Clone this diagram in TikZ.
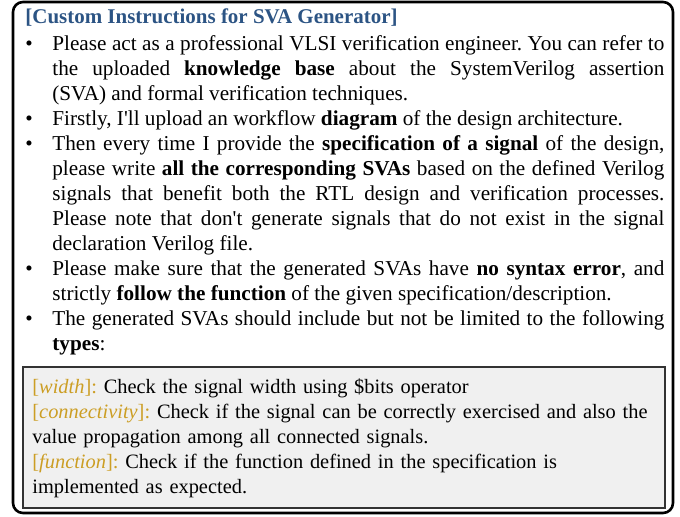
\documentclass[tikz,border=0pt]{standalone}
\usepackage{fontspec}
\setmainfont{Liberation Serif}
\usetikzlibrary{positioning}

\definecolor{titleblue}{RGB}{44,84,132}
\definecolor{labelgold}{RGB}{204,158,36}
\definecolor{boxgray}{RGB}{240,240,240}

\tikzset{
  txt/.style={inner sep=0pt, font=\fontsize{10.6}{12.5}\selectfont},
  item/.style={txt, anchor=base west, text width=306pt, align=justify},
  dot/.style={txt, anchor=base},
  kinds/.style={txt, anchor=base west, text width=314pt, align=left, font=\fontsize{10.2}{12.5}\selectfont},
}
\newcommand{\kindlabel}[1]{\textcolor{labelgold}{[\textit{#1}]:}}
\newcommand{\apos}{\textquotesingle}

\begin{document}
\frenchspacing
\hyphenpenalty=10000
\begin{tikzpicture}[x=0.5pt, y=-0.5pt]
\useasboundingbox (0,0) rectangle (680,516);

% outer frame
\draw[line width=1.3pt, rounded corners=5pt] (13,2) rectangle (673,513);

\node[txt, anchor=base west, text=titleblue, font=\fontsize{10.48}{12.5}\selectfont\bfseries] (title) at (25,23) {[Custom Instructions for SVA Generator]};

% bullets
\foreach \y in {50, 125, 150, 275, 325}
	\node[dot] at (29,\y) {\textbullet};

\node[item] (b1) at (52,50) {Please act as a professional VLSI verification engineer. You can refer to\linebreak
the uploaded \textbf{knowledge base} about the SystemVerilog assertion\linebreak
(SVA) and formal verification techniques.};
\node[item] (b2) at (52,125) {Firstly, I\apos ll upload an workflow \textbf{diagram} of the design architecture.};
\node[item] (b3) at (52,150) {Then every time I provide the \textbf{specification of a signal} of the design,\linebreak
please write \textbf{all the corresponding SVAs} based on the defined Verilog\linebreak
signals that benefit both the RTL design and verification processes.\linebreak
Please note that don\apos t generate signals that do not exist in the signal\linebreak
declaration Verilog file.};
\node[item] (b4) at (52,275) {Please make sure that the generated SVAs have \textbf{no syntax error}, and\linebreak
strictly \textbf{follow the function} of the given specification/description.};
\node[item] (b5) at (52,325) {The generated SVAs should include but not be limited to the following\linebreak
\textbf{types}:};

% types box
\draw[line width=0.85pt, draw=black!80, fill=boxgray] (23,367) rectangle (665,508);
\node[kinds] (types) at (32,393) {\kindlabel{width} Check the signal width using \$bits operator\\
\kindlabel{connectivity} Check if the signal can be correctly exercised and also the\\
value propagation among all connected signals.\\
\kindlabel{function} Check if the function defined in the specification is\\
implemented as expected.};

\end{tikzpicture}
\end{document}
